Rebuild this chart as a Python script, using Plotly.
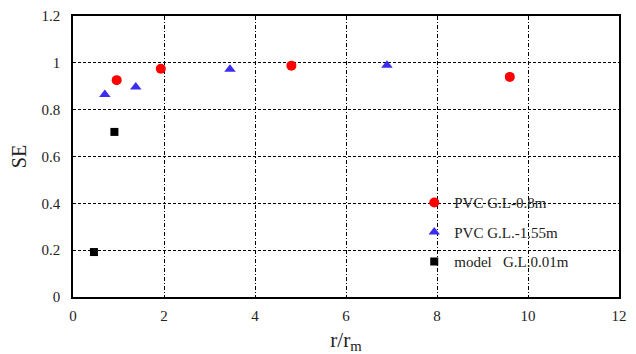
import plotly.graph_objects as go

# Data
pvc08_x = [0.96, 1.93, 4.80, 9.60]
pvc08_y = [0.926, 0.975, 0.988, 0.940]
pvc155_x = [0.70, 1.38, 3.45, 6.90]
pvc155_y = [0.865, 0.897, 0.973, 0.990]
model_x = [0.91, 0.46]
model_y = [0.705, 0.192]

names = ["PVC G.L-0.8m", "PVC G.L.-1.55m", "model\u00a0\u00a0\u00a0G.L.0.01m"]

FONT = "Liberation Serif"

fig = go.Figure()
fig.add_trace(go.Scatter(x=pvc08_x, y=pvc08_y, mode="markers", name=names[0], legendgroup="a",
                         marker=dict(symbol="circle", size=10, color="#ff0000")))
fig.add_trace(go.Scatter(x=pvc155_x, y=pvc155_y, mode="markers", name=names[1], legendgroup="b",
                         marker=dict(symbol="triangle-up", size=10, color="#3b2cf0")))
fig.add_trace(go.Scatter(x=model_x, y=model_y, mode="markers", name=names[2], legendgroup="c",
                         marker=dict(symbol="square", size=8, color="#000000")))

fig.update_layout(
    width=636, height=354,
    margin=dict(l=73, r=17, t=16, b=57),
    paper_bgcolor="white", plot_bgcolor="white",
    font=dict(family=FONT, size=15, color="#222"),
    showlegend=True,
    legend=dict(x=0.625, y=0.394, xanchor="left", yanchor="top",
                bgcolor="rgba(0,0,0,0)", font=dict(family=FONT, size=15, color="#222"),
                itemwidth=30, tracegroupgap=7),
    xaxis=dict(range=[0, 12], dtick=2, showgrid=True, gridcolor="black", gridwidth=1,
               griddash="4px,2px,1px,2px", showline=True, linecolor="black", linewidth=1.5,
               mirror=True, zeroline=False, ticks="", automargin=False, ticklabelstandoff=4,
               tickfont=dict(family=FONT, size=15, color="#222"),
               title=dict(text="r/r<sub>m</sub>", font=dict(family=FONT, size=21, color="#222"), standoff=10)),
    yaxis=dict(range=[0, 1.2], dtick=0.2, showgrid=True, gridcolor="black", gridwidth=1,
               griddash="3px,2px", showline=True, linecolor="black", linewidth=1.5,
               mirror=True, zeroline=False, ticks="", ticklabelstandoff=8, automargin=False,
               tickvals=[0, 0.2, 0.4, 0.6, 0.8, 1.0, 1.2],
               ticktext=["0", "0.2", "0.4", "0.6", "0.8", "1", "1.2"],
               tickfont=dict(family=FONT, size=15, color="#222"),
               title=dict(text="SE", font=dict(family=FONT, size=20, color="#222"), standoff=10)),
)

fig.write_html("out.html", config={"displayModeBar": False},
               post_script="document.body.style.margin='0';")
